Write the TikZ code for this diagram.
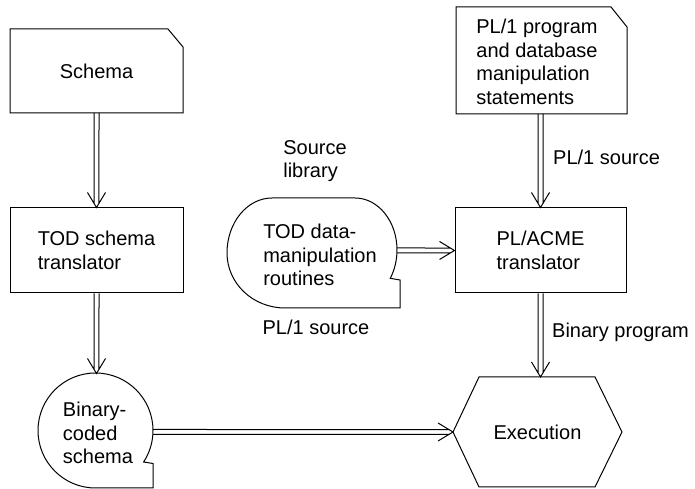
\documentclass[tikz,border=0pt]{standalone}
\usepackage{fontspec}
\setmainfont{Liberation Sans}
\usetikzlibrary{calc}
\pgfdeclarelayer{bg}
\pgfsetlayers{bg,main}
\begin{document}
\begin{tikzpicture}[x=1pt,y=1pt,
  outline/.style={draw=black, line width=1pt, line join=miter},
  txt/.style={font=\fontsize{20}{23.5}\selectfont, align=left, inner sep=0pt},
  boxnode/.style={draw=black, line width=1pt, minimum height=85pt, inner sep=0pt,
    font=\fontsize{20}{23.5}\selectfont, align=left},
  dblarrow/.style={draw=black, line width=1pt, line join=miter,
    to path={
      ($(\tikztostart)!2.5pt!-90:(\tikztotarget)$) -- ($(\tikztotarget)!4.7pt!32:(\tikztostart)$)
      ($(\tikztostart)!2.5pt!90:(\tikztotarget)$) -- ($(\tikztotarget)!4.7pt!-32:(\tikztostart)$)
      ($(\tikztotarget)!17.5pt!31:(\tikztostart)$) -- (\tikztotarget) -- ($(\tikztotarget)!17.5pt!-31:(\tikztostart)$)
    }},
]
\useasboundingbox (0,0) rectangle (695,489);

% ---- shapes ----
% Schema (card with cut corner)
\draw[outline] (10,376) -- (10,460) -- (168,460) -- (183,442) -- (183,376) -- cycle;
\node[txt] (schema) at (96.5,418) {Schema};
\coordinate (schemaS) at (96.5,376);

% TOD schema translator
\node[boxnode, minimum width=173pt] (tod) at (96.5,238.5) {TOD schema\\translator};

% Binary-coded schema (storage symbol)
\draw[outline] (95.5,1) arc[start angle=-90, end angle=-393.2, radius=57.5]
  -- (153,25.5) -- (153,1) -- cycle;
\node[txt] (bin) at (98,56) {Binary-\\coded\\schema};
\coordinate (binN) at (96.5,115.5);
\coordinate (binE) at (153,57);

% TOD data-manipulation routines (storage symbol)
\draw[outline] (400,181) -- (285,181)
  arc[start angle=-90, end angle=-180, x radius=58, y radius=55]
  arc[start angle=180, end angle=90, x radius=45, y radius=55]
  -- (355,291)
  arc[start angle=90, end angle=-33, x radius=42, y radius=52]
  -- (400,209) -- cycle;
\node[txt] (tdm) at (320,234) {TOD data-\\manipulation\\routines};
\coordinate (tdmE) at (397,238.5);
\node[txt] (srclib) at (315,328) {Source\\library};
\node[txt] (src1) at (316,162) {PL/1 source};

% PL/1 program card
\draw[outline] (456,375) -- (456,482) -- (611,482) -- (627,462) -- (627,375) -- cycle;
\node[txt] (prog) at (537,427) {PL/1 program\\and database\\manipulation\\statements};
\coordinate (progS) at (540.5,375);
\node[txt, anchor=west] (src2) at (553,332) {PL/1 source};

% PL/ACME translator
\node[boxnode, minimum width=171pt] (acme) at (540.5,238.5) {PL/ACME\\translator};
\node[txt, anchor=west] (binprog) at (552,157) {Binary program};

% Execution hexagon
\draw[outline] (479,112) -- (595,112) -- (622,57) -- (595,2) -- (479,2) -- (453,57) -- cycle;
\node[txt] (exe) at (537.5,57) {Execution};
\coordinate (exeN) at (540.5,112);
\coordinate (exeW) at (453,57);

% ---- connectors ----
\begin{pgfonlayer}{bg}
\draw[dblarrow] (schemaS) to (tod.north);
\draw[dblarrow] (tod.south) to (binN);
\draw[dblarrow] (binE) to (exeW);
\draw[dblarrow] (tdmE) to (acme.west);
\draw[dblarrow] (progS) to (acme.north);
\draw[dblarrow] (acme.south) to (exeN);
\end{pgfonlayer}
\end{tikzpicture}
\end{document}
